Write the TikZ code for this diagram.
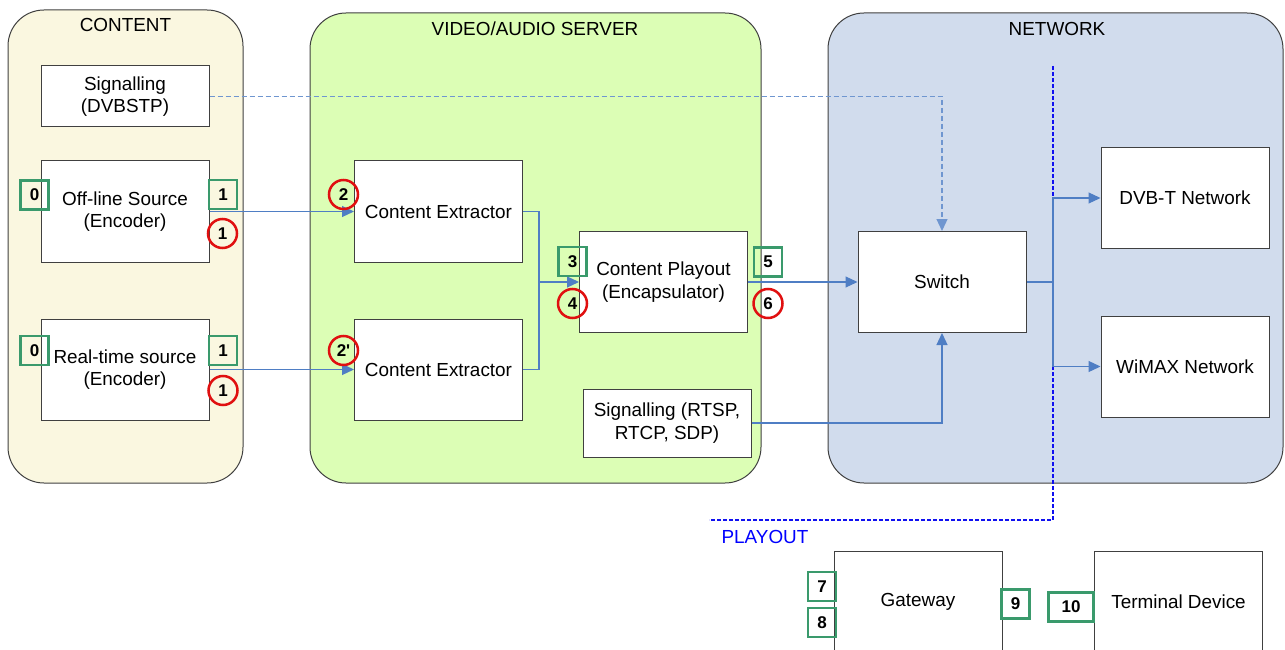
\documentclass[tikz,border=0pt]{standalone}
\usepackage{fontspec}
\setmainfont{Liberation Sans}
\usetikzlibrary{arrows.meta}
\definecolor{contentfill}{HTML}{FAF7E0}
\definecolor{serverfill}{HTML}{DCFEB5}
\definecolor{netfill}{HTML}{D1DCED}
\definecolor{framecol}{HTML}{404040}
\definecolor{linkblue}{HTML}{4F7EC4}
\definecolor{sigblue}{HTML}{6F96D0}
\definecolor{tagGreen}{HTML}{3A9A6C}
\definecolor{tagRed}{HTML}{E01010}
\definecolor{playblue}{HTML}{1010F0}
\newcommand{\lblfont}{\fontsize{18.9}{22.5}\selectfont}
\newcommand{\tagfont}{\fontsize{17}{17}\selectfont\bfseries}
\tikzset{
  area/.style={draw=framecol, line width=1pt, rounded corners=36pt},
  areatitle/.style={font=\lblfont, anchor=center},
  box/.style={draw=framecol, fill=white, line width=1pt, align=center,
    font=\lblfont, minimum width=168pt, minimum height=101pt, inner sep=0pt},
  gtag/.style={draw=tagGreen, line width=2.7pt, minimum width=28pt,
    minimum height=29pt, inner sep=0pt, font=\tagfont},
  rtag/.style={circle, draw=tagRed, line width=2.5pt, minimum size=29pt,
    inner sep=0pt, font=\tagfont},
  link/.style={draw=linkblue, line width=1.2pt},
  flow/.style={link, -{Triangle[length=12pt,width=11pt]}},
  sigflow/.style={draw=sigblue, line width=1.2pt, dash pattern=on 5pt off 3pt,
    -{Triangle[length=12pt,width=11pt]}},
  playline/.style={draw=playblue, line width=1.3pt, dash pattern=on 4pt off 2pt}
}
\begin{document}
\begin{tikzpicture}[x=1pt, y=-1pt]
\useasboundingbox (0,0) rectangle (1285,650);

% three domains
\draw[area, fill=contentfill] (8,10) rectangle (243,483);
\draw[area, fill=serverfill] (310,13) rectangle (761,483);
\draw[area, fill=netfill] (828,13) rectangle (1283,483);
\node[areatitle] (tcontent) at (125.5,25) {CONTENT};
\node[areatitle] (tserver) at (535,29) {VIDEO/AUDIO SERVER};
\node[areatitle] (tnet) at (1057,29) {NETWORK};

% content side
\node[box, minimum height=61pt] (sig1) at (125,96.5) {Signalling\\(DVBSTP)};
\node[box] (off) at (125,211.5) {Off-line Source\\(Encoder)};
\node[box] (rt) at (125,369.5) {Real-time source\\(Encoder)};

% server side
\node[box] (ce1) at (438.5,211.5) {Content Extractor};
\node[box] (ce2) at (438.5,369.5) {Content Extractor};
\node[box] (cp) at (663.5,282) {Content Playout\\(Encapsulator)};
\node[box, minimum height=68pt] (sig2) at (667,423) {Signalling (RTSP,\\RTCP, SDP)};

% network side
\node[box] (sw) at (942,282) {Switch};
\node[box] (dvb) at (1185,198) {DVB-T Network};
\node[box] (wimax) at (1185,366.5) {WiMAX Network};

% receiving side
\node[box] (gw) at (918,601.5) {Gateway};
\node[box] (term) at (1178.5,601.5) {Terminal Device};
\node[font=\lblfont, text=blue] (play) at (765,537) {PLAYOUT};

% playout boundary
\coordinate (pb1) at (1053,66);
\coordinate (pb2) at (709,520);
\draw[playline] (pb1) |- (pb2);

% connectors
\draw[flow] (off.east) -- (ce1.west);
\draw[flow] (rt.east) -- (ce2.west);
\coordinate (jn) at (539,282);
\draw[link] (ce1.east) -| (jn);
\draw[link] (ce2.east) -| (jn);
\draw[flow] (jn) -- (cp.west);
\draw[flow] (cp.east) -- (sw.west);
\draw[flow] (sig2.east) -| (sw.south);
\draw[sigflow] (sig1.east) -| (sw.north);
\coordinate (sp) at (1053,282);
\draw[link] (sw.east) -- (sp);
\draw[flow] (sp) |- (dvb.west);
\draw[flow] (sp) |- (wimax.west);

% step tags
\node[gtag] (g0a) at (34.5,195) {0};
\node[gtag] (g1a) at (223,194.5) {1};
\node[rtag] (r1a) at (222.5,233.5) {1};
\node[gtag] (g0b) at (34.5,350.5) {0};
\node[gtag] (g1b) at (223,350.5) {1};
\node[rtag] (r1b) at (223,390.5) {1};
\node[rtag] (r2) at (343.5,194.5) {2};
\node[rtag] (r2p) at (343.5,350.5) {2\textquotesingle};
\node[gtag] (g3) at (572.5,261.5) {3};
\node[rtag] (r4) at (572.5,303.5) {4};
\node[gtag] (g5) at (768,262) {5};
\node[rtag] (r6) at (768,303.5) {6};
\node[gtag] (g7) at (822,586.5) {7};
\node[gtag] (g8) at (822,622.5) {8};
\node[gtag] (g9) at (1015.5,604) {9};
\node[gtag, minimum width=45pt] (g10) at (1071,607) {10};
\end{tikzpicture}
\end{document}
